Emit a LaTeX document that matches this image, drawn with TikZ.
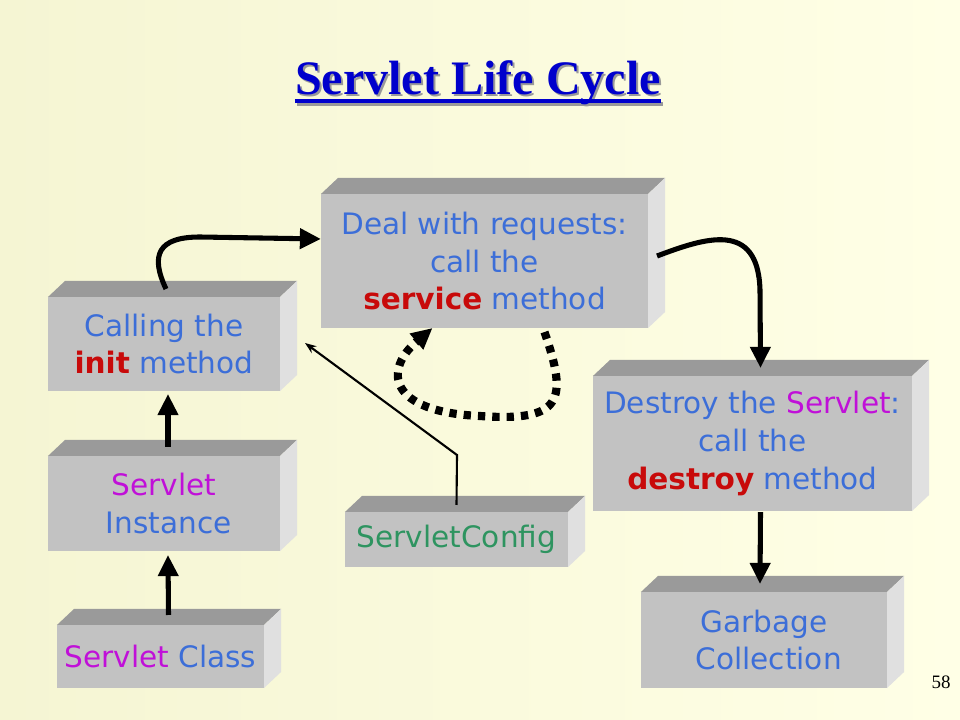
\documentclass[tikz,border=0pt]{standalone}
\usepackage{fontspec}
\setmainfont{Liberation Serif}
\newfontfamily\boxfont{DejaVu Sans}
\usetikzlibrary{arrows.meta,calc}
\definecolor{paperl}{HTML}{F5F5D3}
\definecolor{paperr}{HTML}{FFFFE6}
\definecolor{face}{HTML}{C2C2C2}
\definecolor{facetop}{HTML}{9A9A9A}
\definecolor{faceside}{HTML}{E0E0E0}
\definecolor{txtblue}{HTML}{3C6ED8}
\definecolor{txtred}{HTML}{C80A0A}
\definecolor{txtmag}{HTML}{C010D8}
\definecolor{txtgreen}{HTML}{2E9460}
\definecolor{titleblue}{HTML}{0000CC}

\begin{document}
\begin{tikzpicture}[
    x=0.025cm, y=-0.025cm,
    box/.style={fill=face,inner sep=0pt,outer sep=0pt,align=center,text=txtblue,
                font=\boxfont\fontsize{21}{27}\selectfont},
    arr/.style={-{Triangle[length=15pt,width=14pt]},line width=3.6pt},
    loop/.style={-{Triangle[length=15pt,width=14pt]},line width=5.8pt,
                 dash pattern=on 5.2pt off 5pt},
    thin/.style={-{Stealth[length=8pt,width=6pt]},line width=1.5pt},
    heading/.style={font=\bfseries\fontsize{34.2}{40}\selectfont,anchor=base,inner sep=0pt},
  ]
  \useasboundingbox[left color=paperl,right color=paperr] (0,0) rectangle (960,720);

  % title
  \node[heading,text=black!40] (titleshadow) at (480,97) {Servlet Life Cycle};
  \draw[black!40,line width=2.2pt] ([shift={(0,7)}]titleshadow.base west) -- ([shift={(0,7)}]titleshadow.base east);
  \node[heading,text=titleblue] (title) at (478,95) {Servlet Life Cycle};
  \draw[titleblue,line width=2.2pt] ([shift={(0,6)}]title.base west) -- ([shift={(0,6)}]title.base east);

  % boxes (front faces)
  \node[box,minimum width=5.8cm,minimum height=2.35cm] (init) at (164,344)
    {Calling the\\\textcolor{txtred}{\bfseries init} method};
  \node[box,minimum width=8.175cm,minimum height=3.35cm] (deal) at (484.5,261)
    {Deal with requests:\\call the\\\textcolor{txtred}{\bfseries service} method};
  \node[box,minimum width=7.975cm,minimum height=3.375cm] (destroy) at (752.5,443.5)
    {Destroy the \textcolor{txtmag}{Servlet}:\\call the\\\textcolor{txtred}{\bfseries destroy} method};
  \node[box,minimum width=5.8cm,minimum height=2.375cm] (inst) at (164,503.5)
    {\textcolor{txtmag}{Servlet}\\\ Instance};
  \node[box,minimum width=5.575cm,minimum height=1.375cm,text=txtgreen] (config) at (456.5,539.5)
    {ServletConfig};
  \node[box,minimum width=5.175cm,minimum height=1.575cm] (class) at (160.5,656.5)
    {\textcolor{txtmag}{Servlet} Class};
  \node[box,minimum width=6.15cm,minimum height=2.4cm] (garbage) at (764,640)
    {Garbage\\\ Collection};

  % top and right faces
  \foreach \b in {init,deal,destroy,inst,config,class,garbage}{
    \fill[facetop] (\b.north west) -- ++(17,-16) -- ($(\b.north east)+(17,-16)$) -- (\b.north east) -- cycle;
    \fill[faceside] (\b.north east) -- ++(17,-16) -- ($(\b.south east)+(17,-16)$) -- (\b.south east) -- cycle;
  }

  \node[font=\fontsize{13.5}{16}\selectfont,anchor=base] (page) at (941,688) {58};

  % connectors
  \draw[arr] ([shift={(8,-10)}]class.north) -- ([shift={(4,4)}]inst.south);
  \draw[arr] ([shift={(4,-9)}]inst.north) -- ([shift={(4,3)}]init.south);
  \draw[arr] ([shift={(2,-8)}]init.north) .. controls (150,255) and (158,237) .. (200,237)
    -- ([shift={(0,-22)}]deal.west);
  \draw[arr] ([shift={(9,-5)}]deal.east) .. controls (705,238) and (758,220) .. (760,290)
    -- ([shift={(8,-8)}]destroy.north);
  \draw[loop] ([shift={(60,4)}]deal.south) .. controls (568,400) and (563,422) .. (480,416)
    .. controls (388,412) and (383,370) .. ([shift={(-52,0)}]deal.south);
  \draw[thin] ([shift={(0,-7)}]config.north) -- (457,455) -- ([shift={(25,-1)}]init.east);
  \draw[arr] ([shift={(8,1)}]destroy.south) -- ([shift={(-4,-8)}]garbage.north);
\end{tikzpicture}
\end{document}
